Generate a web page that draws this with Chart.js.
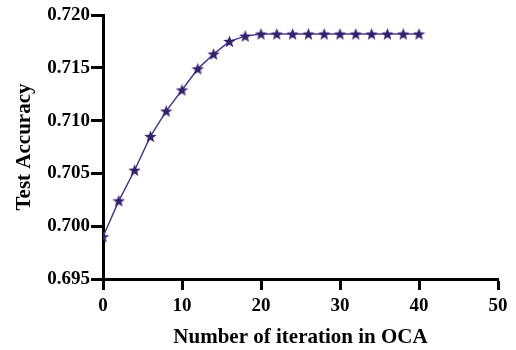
<!DOCTYPE html>
<html>
<head>
<meta charset="utf-8">
<script src="https://cdn.jsdelivr.net/npm/chart.js@4"></script>
<style>
  html, body { margin: 0; padding: 0; background: #fff; }
  #wrap { width: 516px; height: 350px; }
</style>
</head>
<body>
<div id="wrap"><canvas id="chart"></canvas></div>
<script>
// iterations and accuracy
const iterations = [0, 2, 4, 6, 8, 10, 12, 14, 16, 18, 20, 22, 24, 26, 28, 30, 32, 34, 36, 38, 40];
const accuracy = [0.6990, 0.7024, 0.7053, 0.7085, 0.7109, 0.7129, 0.7149, 0.7163, 0.7175, 0.7180,
                  0.7182, 0.7182, 0.7182, 0.7182, 0.7182, 0.7182, 0.7182, 0.7182, 0.7182, 0.7182, 0.7182];
const xTicks = [0, 10, 20, 30, 40, 50];
const yTicks = [0.695, 0.700, 0.705, 0.710, 0.715, 0.720];

// filled five-point star marker
function makeStar(size, color) {
    const c = document.createElement('canvas');
    c.width = size; c.height = size;
    const g = c.getContext('2d');
    const cx = size / 2, cy = size / 2 + 0.5, R = size / 2, r = R * 0.42;
    g.beginPath();
    for (let i = 0; i < 10; i++) {
        const rad = i % 2 ? r : R;
        const a = -Math.PI / 2 + i * Math.PI / 5;
        g.lineTo(cx + rad * Math.cos(a), cy + rad * Math.sin(a));
    }
    g.closePath();
    g.fillStyle = color;
    g.fill();
    return c;
}
const star = makeStar(13, '#35206a');

const font = { family: "'Liberation Serif', 'Times New Roman', serif", weight: 'bold' };

new Chart(document.getElementById('chart'), {
    type: 'line',
    data: {
        datasets: [{
            label: 'Test Accuracy',
            data: iterations.map((x, i) => ({ x: x, y: accuracy[i] })),
            borderColor: '#4a3a8c',
            borderWidth: 1.5,
            pointStyle: star,
            tension: 0,
            fill: false
        }]
    },
    options: {
        responsive: true,
        maintainAspectRatio: false,
        animation: false,
        layout: { padding: { left: 0, right: 18, top: 15, bottom: 0 } },
        plugins: { legend: { display: false }, tooltip: { enabled: false } },
        scales: {
            x: {
                type: 'linear',
                min: 0, max: 50,
                afterBuildTicks: s => { s.ticks = xTicks.map(v => ({ value: v })); },
                afterFit: s => { s.height = 71; },
                border: { display: true, color: '#000', width: 3 },
                grid: { drawOnChartArea: false, drawTicks: true, tickLength: 11, tickWidth: 3, tickColor: '#000' },
                ticks: { color: '#000', padding: 5, maxRotation: 0, font: { ...font, size: 19 } },
                title: { display: true, text: 'Number of iteration in OCA', color: '#000',
                         padding: { top: 4, bottom: 0 }, font: { ...font, size: 21 } }
            },
            y: {
                min: 0.695, max: 0.720,
                afterBuildTicks: s => { s.ticks = yTicks.map(v => ({ value: v })); },
                afterFit: s => { s.width = 103; },
                border: { display: true, color: '#000', width: 3 },
                grid: { drawOnChartArea: false, drawTicks: true, tickLength: 12, tickWidth: 3, tickColor: '#000' },
                ticks: { color: '#000', padding: 1, callback: v => v.toFixed(3), font: { ...font, size: 19 } },
                title: { display: true, text: 'Test Accuracy', color: '#000',
                         padding: { top: 12, bottom: 4 }, font: { ...font, size: 21 } }
            }
        }
    }
});
</script>
</body>
</html>
